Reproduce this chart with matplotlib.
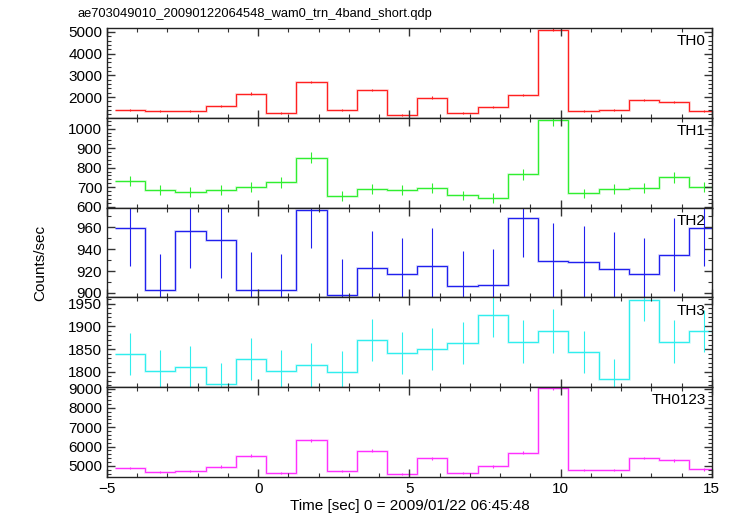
import numpy as np
import matplotlib
matplotlib.use('Agg')
import matplotlib.pyplot as plt
from matplotlib.ticker import MultipleLocator

plt.rcParams['font.family'] = ['Liberation Sans', 'DejaVu Sans']

# bin centres (sec), 1 s bins
time = [-4.24, -3.24, -2.24, -1.24, -0.24, 0.76, 1.76, 2.76, 3.76, 4.76,
        5.76, 6.76, 7.76, 8.76, 9.76, 10.76, 11.76, 12.76, 13.76, 14.76]

th0 = [1419, 1341, 1373, 1585, 2157, 1248, 2693, 1400, 2323, 1170,
       1973, 1248, 1557, 2093, 5111, 1354, 1419, 1862, 1756, 1354]
th0_err = [45, 44, 44, 48, 56, 42, 62, 45, 58, 41,
           54, 42, 47, 55, 88, 44, 45, 52, 50, 44]

th1 = [733, 687, 677, 684, 699, 725, 851, 656, 690, 685,
       697, 658, 644, 766, 1046, 668, 690, 697, 750, 701]
th1_err = [26, 26, 25, 26, 26, 27, 29, 25, 26, 26,
           26, 25, 25, 27, 31, 25, 26, 26, 27, 26]

th2 = [959, 903, 957, 948, 903, 903, 976, 898, 923, 917,
       925, 906, 907, 968, 929, 928, 922, 917, 935, 959]
th2_err = [34, 33, 34, 34, 34, 33, 35, 33, 34, 33,
           34, 32, 33, 35, 35, 33, 34, 33, 33, 34]

th3 = [1839, 1802, 1811, 1774, 1828, 1802, 1815, 1800, 1870, 1842,
       1850, 1864, 1925, 1866, 1890, 1843, 1783, 1959, 1866, 1889]
th3_err = [46, 46, 46, 46, 47, 46, 48, 45, 47, 46,
           47, 46, 48, 47, 49, 46, 44, 47, 47, 46]

th0123 = [4895, 4702, 4754, 4963, 5536, 4634, 6319, 4738, 5797, 4566,
          5400, 4634, 4983, 5677, 9031, 4775, 4790, 5416, 5296, 4827]
th0123_err = [62, 60, 61, 63, 70, 60, 85, 61, 75, 59,
              68, 60, 63, 72, 100, 61, 61, 68, 67, 62]

names = ['TH0', 'TH1', 'TH2', 'TH3', 'TH0123']
series = [th0, th1, th2, th3, th0123]
errors = [th0_err, th1_err, th2_err, th3_err, th0123_err]
colors = ['#ff2020', '#30ee30', '#2020ee', '#30eeee', '#ff30ff']
ylims = [(1050, 5190), (596, 1056), (896, 978), (1766, 1964), (4430, 9070)]
majors = [1000, 100, 20, 50, 1000]
minors = [200, 20, 10, 10, 200]

fig = plt.figure(figsize=(7.33, 5.16), dpi=100)
axes = fig.subplots(5, 1, sharex=True, gridspec_kw=dict(hspace=0))
fig.subplots_adjust(left=0.146, right=0.971, top=0.946, bottom=0.0756)

t = np.array(time)
edges = np.append(t - 0.5, t[-1] + 0.5)

for ax, name, vals, err, col, yl, mj, mn in zip(axes, names, series, errors,
                                                 colors, ylims, majors, minors):
    # pale halo + thin line, like the qdp rendering
    ax.stairs(vals, edges, baseline=None, color=col, lw=1.8, alpha=0.25)
    ax.stairs(vals, edges, baseline=None, color=col, lw=0.8)
    ax.errorbar(t, vals, yerr=err, fmt='none', ecolor=col, elinewidth=0.8, capsize=0)
    ax.set_xlim(-5, 15)
    ax.set_ylim(*yl)
    ax.xaxis.set_major_locator(MultipleLocator(5))
    ax.xaxis.set_minor_locator(MultipleLocator(1))
    ax.yaxis.set_major_locator(MultipleLocator(mj))
    ax.yaxis.set_minor_locator(MultipleLocator(mn))
    ax.tick_params(which='both', direction='in', top=True, right=True,
                   labelsize=11, color='#333333')
    ax.tick_params(which='major', length=6, width=1)
    ax.tick_params(which='minor', length=3, width=0.8)
    for s in ax.spines.values():
        s.set_linewidth(1.0)
        s.set_color('#222222')
    ax.text(0.99, 0.93, name, transform=ax.transAxes, ha='right', va='top', fontsize=11)

axes[-1].set_xlabel('Time [sec] 0 = 2009/01/22 06:45:48', fontsize=11, labelpad=2)
fig.text(0.055, 0.49, 'Counts/sec', rotation=90, ha='center', va='center', fontsize=11)
fig.text(0.106, 0.962, 'ae703049010_20090122064548_wam0_trn_4band_short.qdp',
         ha='left', va='bottom', fontsize=9.3)

fig.savefig('out.png', dpi=100)
